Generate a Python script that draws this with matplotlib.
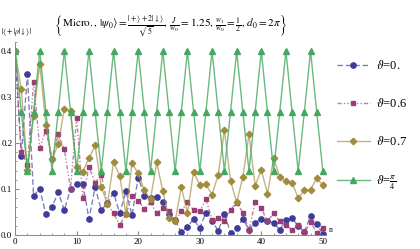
import numpy as np
import matplotlib.pyplot as plt
from matplotlib.ticker import MultipleLocator
from matplotlib.legend_handler import HandlerTuple

plt.rcParams['font.family'] = ['Liberation Serif', 'DejaVu Serif']
plt.rcParams['mathtext.fontset'] = 'stix'

n = np.arange(51)

# theta = 0.
v_blue = [0.40, 0.172, 0.349, 0.085, 0.101, 0.045, 0.061, 0.093, 0.054, 0.100,
          0.111, 0.111, 0.035, 0.104, 0.054, 0.070, 0.092, 0.047, 0.095, 0.043,
          0.125, 0.085, 0.080, 0.082, 0.072, 0.045, 0.032, 0.006, 0.018, 0.035,
          0.015, 0.049, 0.031, 0.009, 0.046, 0.005, 0.015, 0.035, 0.012, 0.027,
          0.035, 0.030, 0.027, 0.011, 0.033, 0.036, 0.020, 0.007, 0.042, 0.024,
          0.002]
# theta = 0.6
v_mag = [0.40, 0.181, 0.152, 0.333, 0.190, 0.227, 0.166, 0.219, 0.186, 0.101,
         0.255, 0.080, 0.148, 0.114, 0.131, 0.068, 0.047, 0.022, 0.045, 0.085,
         0.075, 0.057, 0.071, 0.047, 0.058, 0.052, 0.030, 0.052, 0.071, 0.054,
         0.052, 0.078, 0.033, 0.036, 0.030, 0.055, 0.070, 0.049, 0.010, 0.072,
         0.058, 0.030, 0.047, 0.030, 0.022, 0.011, 0.022, 0.006, 0.028, 0.005,
         0.016]
# theta = 0.7
v_gold = [0.40, 0.317, 0.141, 0.259, 0.372, 0.240, 0.165, 0.197, 0.275, 0.270,
          0.147, 0.138, 0.167, 0.195, 0.105, 0.067, 0.159, 0.128, 0.046, 0.156,
          0.134, 0.097, 0.078, 0.158, 0.095, 0.036, 0.030, 0.104, 0.049, 0.138,
          0.108, 0.110, 0.088, 0.131, 0.228, 0.118, 0.071, 0.126, 0.219, 0.107,
          0.142, 0.090, 0.167, 0.127, 0.117, 0.114, 0.080, 0.098, 0.099, 0.123,
          0.109]
# theta = pi/4
v_green = [0.40, 0.268, 0.139, 0.268, 0.40, 0.268, 0.139, 0.268, 0.40, 0.268,
           0.139, 0.268, 0.40, 0.268, 0.139, 0.268, 0.40, 0.268, 0.139, 0.268,
           0.40, 0.268, 0.139, 0.268, 0.40, 0.268, 0.139, 0.268, 0.40, 0.268,
           0.139, 0.268, 0.40, 0.268, 0.139, 0.268, 0.40, 0.268, 0.139, 0.268,
           0.40, 0.268, 0.139, 0.268, 0.40, 0.268, 0.139, 0.268, 0.40, 0.268,
           0.139]

labels = [r'$\vartheta$=0.', r'$\vartheta$=0.6', r'$\vartheta$=0.7',
          r'$\vartheta$=$\frac{\pi}{4}$']
series = [v_blue, v_mag, v_gold, v_green]
colors = ['#3d3d99', '#993d74', '#a08c3c', '#45a860']
styles = [(0, (4, 2)), (0, (3, 1.5, 1, 1.5, 1, 1.5)), '-', '-']
markers = ['o', 's', 'D', '^']
msizes = [3.8, 3.4, 3.3, 3.7]
alphas = [0.65, 0.65, 0.65, 0.8]

fig = plt.figure(figsize=(4.2, 2.49), dpi=100)
ax = fig.add_axes([0.036, 0.056, 0.74, 0.776])

handles = []
for vals, c, st, mk, ms, a in zip(series, colors, styles, markers, msizes, alphas):
    ln, = ax.plot(n, vals, color=c, ls=st, lw=1.0, alpha=a)
    pt, = ax.plot(n, vals, color=c, ls='none', marker=mk, ms=ms)
    handles.append((ln, pt))

ax.set_xlim(0, 50.5)
ax.set_ylim(0, 0.42)
ax.set_xticks([0, 10, 20, 30, 40, 50])
ax.set_yticks([0.0, 0.1, 0.2, 0.3, 0.4])
ax.set_yticklabels(['0.0', '0.1', '0.2', '0.3', '0.4'])
ax.xaxis.set_minor_locator(MultipleLocator(2))
ax.yaxis.set_minor_locator(MultipleLocator(0.02))
ax.tick_params(which='both', direction='in', labelsize=6.5, color='#888888',
               pad=2)
ax.tick_params(which='major', length=3)
ax.tick_params(which='minor', length=1.5)
for s in ['top', 'right']:
    ax.spines[s].set_visible(False)
for s in ['left', 'bottom']:
    ax.spines[s].set_color('#888888')
    ax.spines[s].set_linewidth(0.7)

ax.set_title(r'$\left\{\mathrm{Micro.},\,|\psi_0\rangle=\frac{|+\rangle+2|\downarrow\rangle}{\sqrt{5}},\,'
             r'\frac{J}{w_0}=1.25,\,\frac{w_1}{w_0}=\frac{1}{2},\,d_0=2\pi\right\}$',
             fontsize=8, pad=10)
fig.text(0.002, 0.862, r'$|\langle + |\rho| \downarrow \rangle|$', fontsize=5.5)
ax.text(1.01, 0.015, 'n', transform=ax.transAxes, fontsize=5.5)

ax.legend(handles, labels, handler_map={tuple: HandlerTuple(ndivide=1)},
          numpoints=1, loc='upper left', bbox_to_anchor=(1.02, 0.935),
          frameon=False, fontsize=9, handlelength=2.6, labelspacing=2.0,
          handletextpad=0.5, borderaxespad=0)

fig.savefig('out.png', dpi=100)
